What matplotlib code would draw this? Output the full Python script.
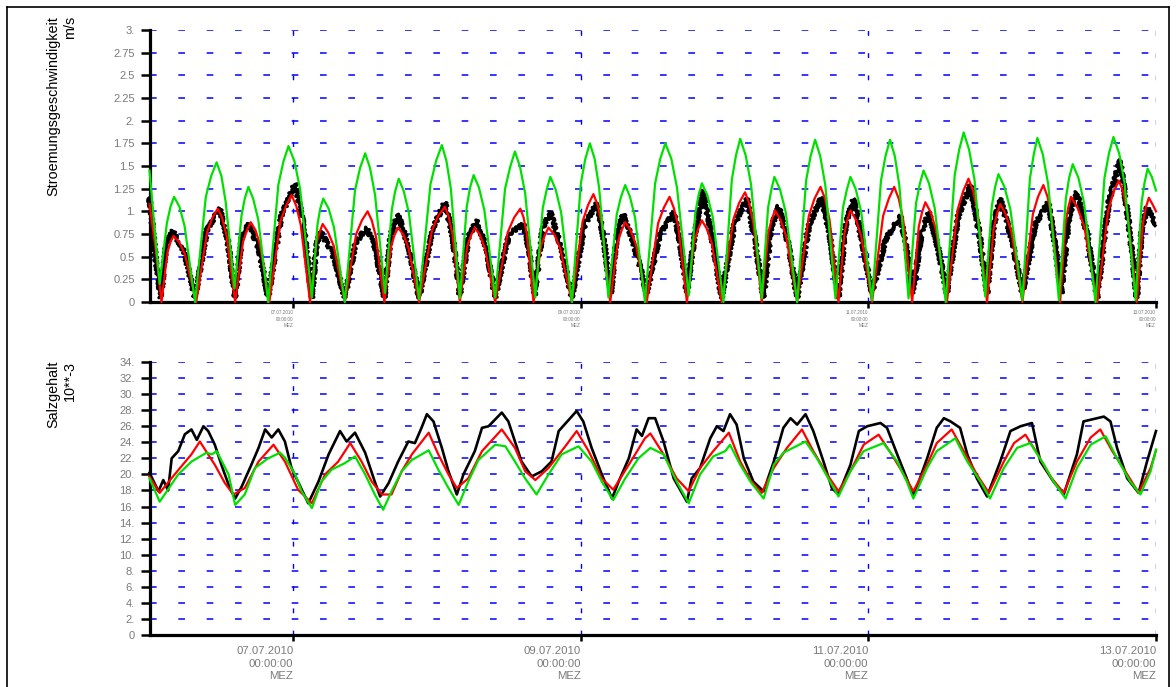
import matplotlib
matplotlib.use('Agg')
import matplotlib.pyplot as plt
from matplotlib.lines import Line2D

plt.rcParams['font.family'] = ['Liberation Sans', 'DejaVu Sans']
plt.rcParams['lines.scale_dashes'] = False

# ---- data: time in hours since 06.07.2010 00:00 MEZ ----
speed_green_t = [0.0, 0.8, 1.7,
                 2.9, 3.5, 4.1, 5.0, 5.85, 7.6,
                 9.4, 10.3, 11.2, 12.0, 12.7, 14.2,
                 15.35, 15.9, 16.5, 17.3, 18.15, 19.8,
                 21.5, 22.35, 23.2, 24.2, 25.15, 27.1,
                 28.05, 28.5, 29.0, 29.9, 30.8, 32.6,
                 34.3, 35.15, 36.0, 36.8, 37.65, 39.3,
                 40.45, 41.0, 41.6, 42.45, 43.3, 45.0,
                 46.9, 47.85, 48.8, 49.55, 50.3, 51.8,
                 52.95, 53.5, 54.1, 55.0, 55.9, 57.7,
                 59.35, 60.2, 61.0, 61.85, 62.7, 64.4,
                 65.65, 66.3, 66.9, 67.8, 68.7, 70.5,
                 72.0, 72.75, 73.5, 74.3, 75.05, 76.6,
                 78.0, 78.7, 79.4, 80.2, 81.05, 82.7,
                 84.4, 85.25, 86.1, 87.1, 88.05, 90.0,
                 91.1, 91.65, 92.2, 93.1, 94.0, 95.8,
                 97.2, 97.9, 98.6, 99.5, 100.4, 102.2,
                 103.25, 103.8, 104.3, 105.25, 106.2, 108.1,
                 109.6, 110.35, 111.1, 111.95, 112.8, 114.5,
                 115.75, 116.4, 117.0, 117.9, 118.8, 120.6,
                 122.1, 122.85, 123.6, 124.4, 125.15, 126.7,
                 127.95, 128.6, 129.2, 130.1, 131.05, 132.9,
                 134.4, 135.15, 135.9, 136.8, 137.7, 139.5,
                 140.6, 141.15, 141.7, 142.7, 143.7, 145.7,
                 146.95, 147.6, 148.2, 149.1, 150.0, 151.8,
                 152.95, 153.5, 154.1, 155.05, 156.0, 157.9,
                 159.4, 160.15, 160.9, 161.85, 162.75, 164.6,
                 165.6, 166.1, 166.6, 167.3, 168.0]
speed_green_v = [1.45, 0.85, 0.20,
                 0.87, 1.05, 1.16, 1.05, 0.84, 0.0,
                 1.16, 1.39, 1.54, 1.39, 1.11, 0.15,
                 0.95, 1.14, 1.27, 1.14, 0.91, 0.0,
                 1.29, 1.55, 1.72, 1.55, 1.24, 0.05,
                 0.86, 1.03, 1.14, 1.03, 0.82, 0.0,
                 1.23, 1.48, 1.64, 1.48, 1.18, 0.10,
                 1.02, 1.22, 1.36, 1.22, 0.98, 0.03,
                 1.30, 1.56, 1.73, 1.56, 1.25, 0.04,
                 1.05, 1.26, 1.40, 1.26, 1.01, 0.05,
                 1.25, 1.49, 1.66, 1.49, 1.20, 0.05,
                 1.04, 1.24, 1.38, 1.24, 0.99, 0.0,
                 1.31, 1.58, 1.75, 1.58, 1.26, 0.05,
                 0.97, 1.16, 1.29, 1.16, 0.93, 0.0,
                 1.31, 1.58, 1.75, 1.58, 1.26, 0.07,
                 0.98, 1.18, 1.31, 1.18, 0.94, 0.0,
                 1.35, 1.62, 1.80, 1.62, 1.30, 0.04,
                 1.04, 1.24, 1.38, 1.24, 0.99, 0.0,
                 1.34, 1.61, 1.79, 1.61, 1.29, 0.04,
                 1.04, 1.24, 1.38, 1.24, 0.99, 0.02,
                 1.34, 1.61, 1.79, 1.61, 1.29, 0.04,
                 1.09, 1.31, 1.45, 1.31, 1.04, 0.0,
                 1.40, 1.68, 1.87, 1.68, 1.35, 0.06,
                 1.06, 1.27, 1.41, 1.27, 1.02, 0.02,
                 1.36, 1.63, 1.81, 1.63, 1.30, 0.02,
                 1.14, 1.37, 1.52, 1.37, 1.09, 0.0,
                 1.37, 1.64, 1.82, 1.64, 1.31, 0.02,
                 1.10, 1.32, 1.47, 1.38, 1.23]

speed_red_t = [0.0, 1.0, 2.0,
               3.0, 3.5, 4.0, 4.95, 5.9, 7.8,
               9.6, 10.5, 11.4, 12.1, 12.85, 14.3,
               15.6, 16.25, 16.9, 17.7, 18.45, 20.0,
               21.85, 22.8, 23.7, 24.5, 25.25, 26.8,
               27.85, 28.4, 28.9, 29.8, 30.75, 32.6,
               34.5, 35.45, 36.4, 37.1, 37.8, 39.2,
               40.35, 40.9, 41.5, 42.4, 43.25, 45.0,
               47.15, 48.2, 49.3, 49.9, 50.55, 51.8,
               53.05, 53.7, 54.3, 55.15, 56.0, 57.7,
               59.8, 60.85, 61.9, 62.45, 63.0, 64.1,
               65.35, 66.0, 66.6, 67.6, 68.55, 70.5,
               72.3, 73.2, 74.1, 74.8, 75.5, 76.9,
               78.15, 78.8, 79.4, 80.3, 81.2, 83.0,
               84.9, 85.85, 86.8, 87.5, 88.25, 89.7,
               90.95, 91.6, 92.2, 93.0, 93.85, 95.5,
               97.45, 98.4, 99.4, 100.1, 100.8, 102.2,
               103.3, 103.85, 104.4, 105.3, 106.25, 108.1,
               110.05, 111.0, 112.0, 112.75, 113.5, 115.0,
               116.0, 116.5, 117.0, 117.9, 118.8, 120.6,
               122.45, 123.4, 124.3, 125.05, 125.8, 127.3,
               128.4, 128.95, 129.5, 130.4, 131.3, 133.1,
               134.9, 135.8, 136.7, 137.5, 138.25, 139.8,
               140.9, 141.45, 142.0, 142.9, 143.85, 145.7,
               147.45, 148.3, 149.2, 149.9, 150.6, 152.0,
               152.9, 153.35, 153.8, 154.9, 156.0, 158.2,
               160.0, 160.9, 161.8, 162.55, 163.3, 164.8,
               165.8, 166.3, 166.8, 167.4, 168.0]
speed_red_v = [1.08, 0.6, 0.0,
               0.55, 0.66, 0.73, 0.66, 0.53, 0.0,
               0.77, 0.93, 1.03, 0.93, 0.74, 0.0,
               0.66, 0.79, 0.88, 0.79, 0.63, 0.0,
               0.89, 1.06, 1.18, 1.06, 0.85, 0.0,
               0.65, 0.77, 0.86, 0.77, 0.62, 0.0,
               0.75, 0.90, 1.00, 0.90, 0.72, 0.0,
               0.62, 0.74, 0.82, 0.74, 0.59, 0.0,
               0.79, 0.95, 1.05, 0.95, 0.76, 0.0,
               0.62, 0.74, 0.82, 0.74, 0.59, 0.0,
               0.77, 0.93, 1.03, 0.93, 0.74, 0.0,
               0.62, 0.74, 0.82, 0.74, 0.59, 0.0,
               0.89, 1.07, 1.19, 1.07, 0.86, 0.0,
               0.66, 0.79, 0.88, 0.79, 0.63, 0.0,
               0.87, 1.04, 1.16, 1.04, 0.84, 0.0,
               0.68, 0.81, 0.90, 0.81, 0.65, 0.0,
               0.91, 1.09, 1.21, 1.09, 0.87, 0.0,
               0.76, 0.91, 1.01, 0.91, 0.73, 0.0,
               0.95, 1.14, 1.27, 1.14, 0.91, 0.0,
               0.76, 0.91, 1.01, 0.91, 0.73, 0.0,
               0.95, 1.14, 1.27, 1.14, 0.91, 0.0,
               0.83, 0.99, 1.10, 0.99, 0.79, 0.0,
               1.02, 1.22, 1.36, 1.22, 0.98, 0.0,
               0.81, 0.97, 1.08, 0.97, 0.78, 0.0,
               0.97, 1.16, 1.29, 1.16, 0.93, 0.0,
               0.87, 1.04, 1.16, 1.04, 0.84, 0.0,
               1.00, 1.21, 1.34, 1.21, 0.96, 0.0,
               0.86, 1.04, 1.15, 1.08, 1.0]

speed_black_t = [0.0, 1.0, 1.9, 2.8, 3.9, 5.8, 7.6, 9.6, 11.7, 13.0, 14.3, 15.4, 16.5, 18.2, 19.8, 22.0, 24.3, 25.7, 27.1,
                 27.8, 28.5, 30.5, 32.6, 34.4, 36.2, 37.7, 39.2, 40.3, 41.5, 43.3, 45.0, 47.2, 49.3, 50.6, 51.8, 53.2,
                 54.6, 56.2, 57.7, 60.0, 62.4, 63.3, 64.3, 65.6, 66.9, 68.7, 70.5, 72.6, 74.7, 75.8, 77.0, 78.0, 79.1,
                 81.0, 83.0, 85.2, 87.5, 88.6, 89.7, 91.0, 92.4, 94.0, 95.5, 97.6, 99.7, 101.0, 102.5, 103.7, 105.0,
                 106.6, 108.1, 110.1, 112.2, 113.6, 115.0, 116.2, 117.5, 119.0, 120.6, 122.9, 125.3, 126.3, 127.5,
                 128.8, 130.1, 131.6, 133.1, 135.0, 137.0, 138.4, 139.8, 140.9, 142.0, 143.9, 145.7, 147.8, 150.0,
                 151.0, 152.2, 153.5, 154.8, 156.5, 158.2, 160.1, 162.0, 163.4, 164.8, 165.6, 166.5, 168.0]
speed_black_v = [1.15, 0.5, 0.05, 0.65, 0.78, 0.55, 0.05, 0.8, 1.03, 0.7, 0.05, 0.7, 0.86, 0.6, 0.05, 0.95, 1.31, 0.85, 0.05,
                 0.6, 0.78, 0.55, 0.05, 0.65, 0.82, 0.6, 0.05, 0.75, 0.97, 0.6, 0.05, 0.8, 1.10, 0.72, 0.08, 0.7,
                 0.90, 0.6, 0.05, 0.75, 0.86, 0.6, 0.08, 0.8, 0.99, 0.6, 0.05, 0.85, 1.09, 0.7, 0.1, 0.75, 0.97,
                 0.6, 0.1, 0.75, 0.99, 0.65, 0.1, 0.75, 1.23, 0.65, 0.05, 0.85, 1.14, 0.7, 0.05, 0.8, 1.06,
                 0.65, 0.05, 0.85, 1.16, 0.7, 0.05, 0.85, 1.14, 0.65, 0.1, 0.7, 0.95, 0.6, 0.1,
                 0.75, 0.99, 0.6, 0.1, 0.95, 1.29, 0.8, 0.1, 0.85, 1.14, 0.7, 0.1, 0.85, 1.10,
                 0.7, 0.1, 0.95, 1.21, 0.75, 0.05, 1.1, 1.57, 0.9, 0.05, 0.8, 1.04, 0.85]

salt_green_t = [0.0, 1.7, 4.8, 7.0, 9.5, 10.4, 11.2, 13.2, 14.3, 15.9, 17.6, 19.8, 21.8, 22.6, 24.3, 25.4, 27.1, 28.7,
                30.4, 32.6, 34.3, 36.0, 37.6, 39.0, 40.4, 42.1, 43.8, 46.6, 48.2, 49.9, 51.6, 53.2, 54.9, 57.7, 59.4,
                61.0, 62.7, 64.6, 66.6, 68.8, 71.6, 73.8, 75.5, 77.4, 79.4, 81.6, 83.6, 85.8, 88.0, 90.0, 91.9, 94.1,
                96.1, 96.9, 98.6, 100.3, 102.5, 104.2, 105.8, 109.5, 111.4, 113.6, 115.0, 117.0, 119.2, 122.5, 124.8,
                126.4, 127.5, 129.8, 131.4, 134.5, 136.5, 138.7, 140.3, 142.6, 144.8, 147.0, 149.3, 150.9, 152.9,
                154.8, 157.1, 159.6, 161.5, 163.7, 165.4, 167.1, 168.0]
salt_green_v = [19.5, 16.6, 20.0, 21.6, 22.7, 22.5, 22.9, 20.0, 16.2, 17.5, 20.8, 22.0, 22.7, 22.1, 20.0, 17.9, 15.8, 19.1,
                20.6, 21.4, 22.25, 20.0, 17.5, 15.6, 17.9, 20.4, 21.8, 23.0, 20.6, 18.3, 16.2, 19.1, 21.8, 23.7, 23.5,
                21.6, 19.5, 17.5, 20.0, 22.5, 23.5, 21.6, 19.1, 16.8, 19.5, 22.0, 23.3, 22.5, 19.1, 16.4, 20.0, 22.25,
                22.9, 23.7, 21.2, 19.1, 17.0, 21.2, 22.7, 24.1, 22.0, 19.1, 17.25, 20.4, 22.9, 23.9, 21.6,
                19.1, 17.0, 20.8, 22.9, 24.5, 21.6, 19.1, 17.0, 20.8, 23.3, 23.9, 21.2, 19.1, 17.0,
                20.8, 23.7, 24.75, 22.0, 19.1, 17.5, 20.4, 23.1]

salt_red_t = [0.0, 1.7, 4.2, 7.0, 8.4, 10.9, 12.6, 14.0, 15.9, 18.2, 20.7, 22.6, 24.8, 27.1, 29.3, 31.5, 33.5, 35.4, 37.1,
              38.8, 40.4, 42.1, 43.8, 46.6, 48.2, 49.9, 51.3, 53.2, 55.5, 58.8, 61.0, 62.7, 64.4, 66.6, 69.4, 71.3,
              73.3, 75.5, 77.4, 80.0, 82.7, 83.6, 85.8, 88.0, 90.0, 91.9, 94.1, 96.7, 98.6, 100.3, 102.2, 104.2, 106.4,
              108.9, 110.8, 113.1, 115.0, 117.0, 119.2, 121.7, 123.7, 125.9, 127.5, 129.8, 131.4, 133.9, 135.9, 138.1,
              140.1, 142.6, 144.3, 146.2, 148.1, 150.4, 152.6, 154.8, 157.1, 158.7, 160.7, 163.2, 165.1, 167.1, 168.0]
salt_red_v = [19.7, 17.7, 20.0, 22.5, 24.1, 21.2, 18.9, 17.5, 18.3, 21.6, 23.7, 21.6, 18.1, 16.4, 20.0, 21.6, 23.9, 21.6, 19.1,
              17.5, 17.5, 20.4, 22.5, 25.2, 22.5, 20.0, 18.3, 19.5, 22.9, 25.6, 23.3, 20.4, 19.3, 20.8, 23.5, 25.4,
              22.9, 19.5, 18.1, 21.2, 24.5, 25.1, 22.5, 19.5, 17.9, 20.8, 22.9, 25.2, 21.6, 19.3, 17.7, 20.8, 23.3,
              25.6, 22.9, 20.0, 17.9, 20.4, 23.7, 24.95, 22.7, 20.0, 17.9, 21.2, 23.9, 25.6, 22.9, 20.0,
              17.7, 21.6, 23.9, 24.95, 22.7, 19.7, 17.7, 21.6, 24.6, 25.6, 22.9, 20.0, 17.7, 20.8, 23.0]

salt_black_t = [0.0, 1.5, 2.3, 3.1, 3.7, 4.8, 5.9, 7.0, 7.9, 9.0, 9.8, 10.9, 12.0, 13.4, 14.3, 15.4, 17.0, 18.2, 19.3, 20.4,
                21.5, 22.6, 23.7, 26.5, 28.2, 29.9, 31.8, 32.9, 34.3, 36.0, 37.6, 38.5, 39.9, 41.5, 43.2, 44.3, 45.4,
                46.3, 47.4, 48.8, 49.9, 51.3, 52.4, 54.3, 55.5, 56.6, 58.8, 59.9, 61.0, 62.1, 63.8, 65.5, 67.1, 68.3,
                71.3, 72.4, 73.8, 75.5, 77.2, 78.3, 80.0, 81.3, 82.2, 83.3, 84.4, 85.8, 87.5, 89.7, 90.5, 91.9, 93.6,
                94.7, 95.8, 96.9, 98.0, 99.2, 100.8, 102.5, 104.2, 105.8, 107.0, 108.1, 109.5, 110.8, 112.5, 113.9,
                115.0, 117.0, 118.4, 119.8, 122.0, 123.1, 124.8, 126.4, 127.5, 129.8, 131.4, 132.6, 133.7, 135.3,
                136.5, 138.1, 139.8, 142.0, 143.7, 145.4, 147.3, 148.7, 150.9, 152.6, 154.8, 155.9, 159.3, 160.4,
                161.5, 163.2, 165.1, 166.5, 168.0]
salt_black_v = [20.2, 17.9, 19.3, 18.0, 22.0, 22.9, 25.0, 25.6, 24.3, 26.0, 25.4, 23.7, 21.2, 18.3, 17.0, 18.5, 21.2, 23.3, 25.6, 24.6,
                25.6, 24.1, 20.8, 16.4, 19.1, 22.5, 25.4, 24.1, 25.2, 22.7, 19.1, 17.25, 18.9, 21.6, 24.1, 23.9, 25.8,
                27.5, 26.6, 23.3, 20.4, 17.5, 20.0, 22.9, 25.8, 26.0, 27.7, 26.6, 24.1, 21.6, 19.75, 20.4, 21.6, 25.4,
                27.9, 26.6, 23.3, 20.0, 17.0, 19.1, 22.0, 25.6, 24.8, 27.0, 27.0, 24.1, 19.5, 16.6, 19.5, 20.8, 24.5,
                26.0, 25.4, 27.5, 26.2, 22.0, 19.1, 17.9, 21.6, 25.8, 27.0, 26.2, 27.5, 25.4, 21.6, 18.3,
                17.5, 21.2, 25.4, 26.0, 26.4, 25.8, 22.5, 19.5, 17.25, 22.0, 25.8, 27.0, 26.6, 25.8,
                22.5, 19.5, 17.25, 21.6, 25.4, 26.0, 26.4, 21.6, 19.1, 17.5, 22.5, 26.6, 27.2, 26.6,
                23.3, 19.5, 17.7, 21.6, 25.4]

speed_ticks = [0, 0.25, 0.5, 0.75, 1.0, 1.25, 1.5, 1.75, 2.0, 2.25, 2.5, 2.75, 3.0]
speed_ticklabels = ['0', '0.25', '0.5', '0.75', '1.', '1.25', '1.5', '1.75', '2.', '2.25', '2.5', '2.75', '3.']
salt_ticks = list(range(0, 35, 2))
salt_ticklabels = ['0'] + [f'{v}.' for v in range(2, 35, 2)]
date_ticks = [24, 72, 120, 168]
date_names = ['07.07.2010', '09.07.2010', '11.07.2010', '13.07.2010']
date_ticklabels = [f'{d}\n00:00:00\nMEZ' for d in date_names]

W, H = 1176, 687
fig = plt.figure(figsize=(W / 100, H / 100), dpi=100)

def px_axes(l, t, r, b):
    return fig.add_axes([l / W, 1 - b / H, (r - l) / W, (b - t) / H])

ax1 = px_axes(149.5, 30, 1156, 302)
ax2 = px_axes(149.5, 362, 1156, 635)

GRAY = '#7a7a7a'
BLUE = '#0000ff'

for ax, ticks, labels, ylim in [(ax1, speed_ticks, speed_ticklabels, (0, 3)),
                                (ax2, salt_ticks, salt_ticklabels, (0, 34))]:
    ax.set_xlim(0, 168)
    ax.set_ylim(*ylim)
    ax.set_yticks(ticks)
    ax.set_yticklabels(labels)
    ax.set_xticks(date_ticks)
    for s in ['top', 'right']:
        ax.spines[s].set_visible(False)
    for s in ['left', 'bottom']:
        ax.spines[s].set_linewidth(2.3)
        ax.spines[s].set_color('black')
        ax.spines[s].set_capstyle('projecting')
    ax.tick_params(axis='y', direction='out', length=6.5, width=1.8, color='black',
                   labelsize=8, labelcolor=GRAY, pad=4)
    ax.grid(True, axis='y', color=BLUE, linewidth=1.1, linestyle=(0, (4.8, 15.6)))
    ax.grid(True, axis='x', color=BLUE, linewidth=1.0, linestyle=(0, (3.5, 12.5)))
    ax.set_axisbelow(True)
    ax.patch.set_visible(False)

ax1.tick_params(axis='x', direction='out', length=4, width=1.8, labelsize=3.3, labelcolor=GRAY, pad=2)
ax1.set_xticklabels(date_ticklabels, ha='right', linespacing=1.3)
ax2.tick_params(axis='x', direction='out', length=4, width=1.8, labelsize=8.2, labelcolor=GRAY, pad=4)
ax2.set_xticklabels(date_ticklabels, ha='right', linespacing=1.3)

k1, = ax1.plot(speed_black_t, speed_black_v, color='black', lw=2.4, zorder=3)
ax1.plot(speed_red_t, speed_red_v, color='#ff0000', lw=1.6, zorder=4)
ax1.plot(speed_green_t, speed_green_v, color='#00e000', lw=1.6, zorder=5)

ax2.plot(salt_black_t, salt_black_v, color='black', lw=1.9, zorder=3)
ax2.plot(salt_red_t, salt_red_v, color='#ff0000', lw=1.6, zorder=4)
ax2.plot(salt_green_t, salt_green_v, color='#00e000', lw=1.6, zorder=5)

# jagged rendering style for the noisy measured current series
k1.set_sketch_params(scale=2.0, length=2.5, randomness=3)

for ax in (ax1, ax2):
    for ln in ax.lines:
        ln.set_clip_on(False)

fig.text(61.5 / W, 1 - 16 / H, 'Stroemungsgeschwindigkeit\nm/s', rotation=90, ha='center', va='top',
         multialignment='right', fontsize=10.4, color='black')
fig.text(61.5 / W, 1 - 361 / H, 'Salzgehalt\n10**-3', rotation=90, ha='center', va='top',
         multialignment='right', fontsize=10.4, color='black')

# outer frame
fig.add_artist(Line2D([7 / W, 7 / W], [0, 1 - 7 / H], color='black', lw=1.2))
fig.add_artist(Line2D([7 / W, 1169 / W], [1 - 7 / H, 1 - 7 / H], color='black', lw=1.2))
fig.add_artist(Line2D([1169 / W, 1169 / W], [0, 1 - 7 / H], color='black', lw=1.2))

fig.savefig('out.png', dpi=100)
